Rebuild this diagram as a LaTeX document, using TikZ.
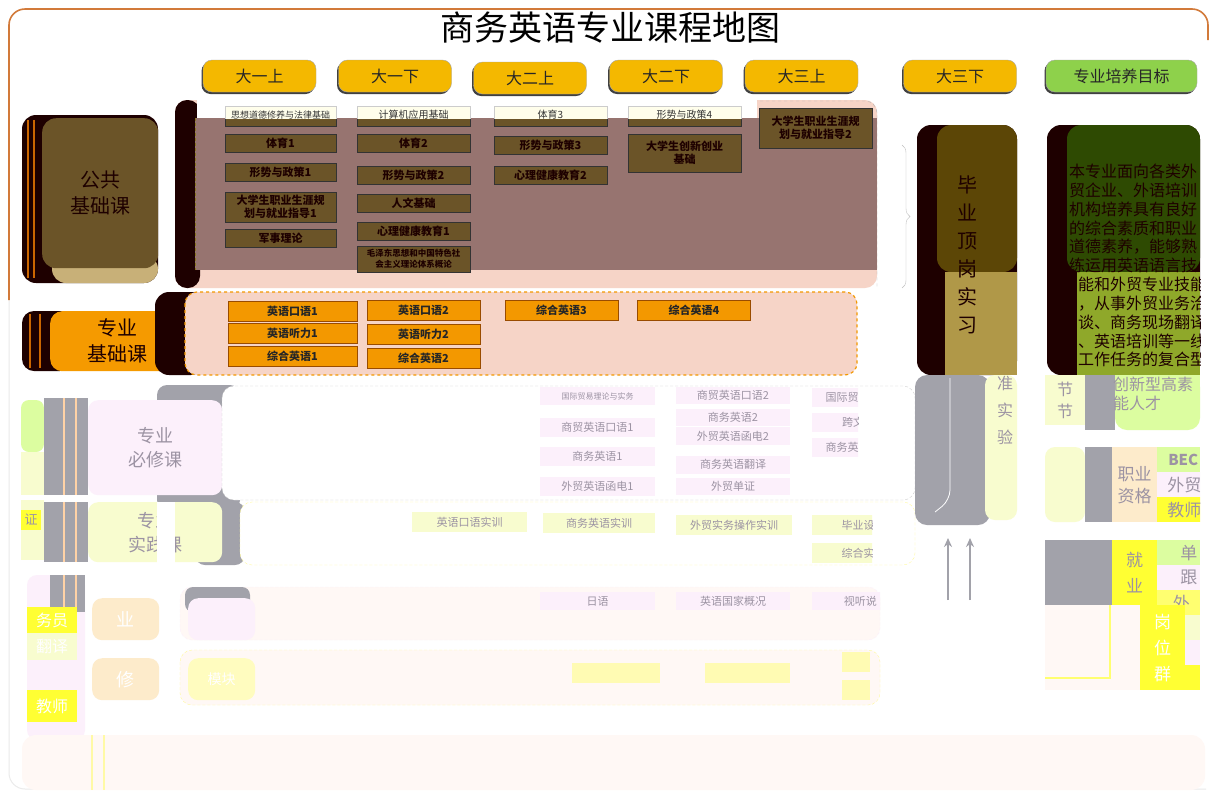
\documentclass[tikz,border=0pt]{standalone}
\usepackage{fontspec}
\setmainfont{Noto Sans CJK SC}
\usetikzlibrary{arrows.meta,positioning,shadows,decorations.pathreplacing}
\definecolor{semy}{HTML}{F4B800}
\definecolor{goalgreen}{HTML}{8ED14B}
\definecolor{darkred}{HTML}{1E0000}
\definecolor{olivebr}{HTML}{6B5428}
\definecolor{tanbr}{HTML}{C8B078}
\definecolor{mauve}{HTML}{977470}
\definecolor{peach}{HTML}{F6D4C7}
\definecolor{orangelab}{HTML}{F59A00}
\definecolor{orangec}{HTML}{F39800}
\definecolor{framebr}{HTML}{D27A3A}
\definecolor{intern}{HTML}{5C4606}
\definecolor{interntan}{HTML}{B09848}
\definecolor{goaldark}{HTML}{2E4A02}
\definecolor{goalolive}{HTML}{8FA82A}
\definecolor{graybar}{HTML}{A2A2AA}
\definecolor{palepink}{HTML}{FCF0FB}
\definecolor{paleyel}{HTML}{F8FCCF}
\definecolor{palegreen}{HTML}{DCFDA0}
\definecolor{brightyel}{HTML}{FFFF33}
\definecolor{palepeach}{HTML}{FDEBCB}
\definecolor{offwhite}{HTML}{FFF8F5}
\definecolor{fadetext}{HTML}{9C93A3}
\tikzset{%
    sem_block/.style={%
        rectangle, rounded corners=9pt, draw=gray!70, fill=semy, minimum width=113, minimum height=32,
        font=\fontsize{16}{18}\selectfont, text=black!85,
        drop shadow={shadow xshift=-1.5pt, shadow yshift=-2pt, fill=black!75, opacity=1}
    },
    head_box/.style={%
        rectangle, rounded corners=12pt, align=center, font=\fontsize{20}{26}\selectfont, text=darkred
    },
    pub_course/.style={%
        rectangle, draw=black!80, line width=0.7pt, fill=olivebr, text=darkred, align=center,
        font=\bfseries\fontsize{11}{13}\selectfont, minimum width=111, minimum height=18, inner sep=1pt,
        drop shadow={shadow xshift=1pt, shadow yshift=-1pt, fill=black!60, opacity=1}
    },
    pub_top/.style={%
        pub_course, fill=yellow!8, draw=gray!40, text=black!80, font=\fontsize{10}{12}\selectfont
    },
    base_course/.style={%
        rectangle, draw=orange!60!black, line width=0.6pt, fill=orangec, text=black!85,
        font=\bfseries\fontsize{11}{13}\selectfont, minimum width=113, minimum height=20, inner sep=1pt
    },
    req_course/.style={%
        rectangle, fill=palepink, text=fadetext, font=\fontsize{11}{13}\selectfont,
        minimum width=115, minimum height=19, inner sep=1pt
    },
    prac_course/.style={%
        rectangle, fill=paleyel, text=fadetext, font=\fontsize{11}{13}\selectfont,
        minimum width=114, minimum height=20, inner sep=1pt
    },
    fade_head/.style={%
        rectangle, rounded corners=10pt, align=center, text=fadetext, font=\fontsize{18}{24}\selectfont
    },
    side_cell/.style={%
        rectangle, anchor=north west, inner sep=0pt, text=fadetext, align=center, font=\fontsize{16}{19}\selectfont
    },
    goal_txt/.style={%
        anchor=north west, inner sep=0pt, align=left, text=darkred, font=\fontsize{16}{18.8}\selectfont
    },
    up_arrow/.style={%
        -{Stealth[length=9pt,width=8pt]}, draw=graybar, line width=2pt
    },
}
\begin{document}
\begin{tikzpicture}[x=1pt,y=-1pt]
\useasboundingbox (0,0) rectangle (1211,796);
\fill[white] (0,0) rectangle (1211,796);

% frame and title
\draw[black!8, line width=1pt, rounded corners=16pt] (9,300) -- (9,789) -- (1206,789);
\draw[framebr, line width=1.6pt, rounded corners=16pt] (9,300) -- (9,9) -- (1208,9) -- (1208,40);
\node[font=\fontsize{34}{36}\selectfont] (title) at (610,28) {商务英语专业课程地图};

% semesters
\node[sem_block] (s11) at (259.5,76) {大一上};
\node[sem_block] (s12) at (395,76) {大一下};
\node[sem_block] (s21) at (530,78) {大二上};
\node[sem_block] (s22) at (666,76) {大二下};
\node[sem_block] (s31) at (801.5,76) {大三上};
\node[sem_block] (s32) at (960,76) {大三下};
\node[sem_block, fill=goalgreen, minimum width=151] (goal) at (1121.5,76) {专业培养目标};

% public basic courses
\fill[darkred, rounded corners=14pt] (22,115) rectangle (158,283);
\draw[orange!80!black, line width=1.5pt] (28,120) -- (28,278) (34,120) -- (34,278);
\fill[tanbr, rounded corners=14pt] (52,255) rectangle (158,283);
\node[head_box, fill=olivebr, minimum width=116, minimum height=150, anchor=north west,
      rounded corners=14pt] (pub) at (42,118) {公共\\基础课};
\fill[peach, rounded corners=12pt] (175,100) rectangle (877,288);
\draw[gray!60, dashed, rounded corners=12pt] (190,101) -- (877,101) -- (877,288);
\fill[darkred, rounded corners=12pt] (175,100) rectangle (200,288);
\fill[mauve] (195,118) rectangle (877,270);
\draw[olivebr!80!yellow, densely dashed, line width=1pt] (195,118) -- (195,270);

\node[pub_course] (p1a) at (280.5,117) {};
\node[pub_course] (p1b) at (280.5,143) {体育1};
\node[pub_course] (p1c) at (280.5,172) {形势与政策1};
\node[pub_course, minimum height=30] (p1d) at (280.5,207) {大学生职业生涯规\\划与就业指导1};
\node[pub_course] (p1e) at (280.5,238) {军事理论};
\node[pub_course, minimum width=113] (p2a) at (413.5,117) {};
\node[pub_course, minimum width=113] (p2b) at (413.5,143) {体育2};
\node[pub_course, minimum width=113] (p2c) at (413.5,175) {形势与政策2};
\node[pub_course, minimum width=113] (p2d) at (413.5,203) {人文基础};
\node[pub_course, minimum width=113] (p2e) at (413.5,231) {心理健康教育1};
\node[pub_course, minimum width=113, minimum height=26, font=\bfseries\fontsize{8.5}{11}\selectfont]
     (p2f) at (413.5,259) {毛泽东思想和中国特色社\\会主义理论体系概论};
\node[pub_course, minimum width=113] (p3a) at (550.5,117) {};
\node[pub_course, minimum width=113] (p3b) at (550.5,145) {形势与政策3};
\node[pub_course, minimum width=113] (p3c) at (550.5,175) {心理健康教育2};
\node[pub_course, minimum width=113] (p4a) at (684.5,117) {};
\node[pub_course, minimum width=113, minimum height=38] (p4b) at (684.5,153) {大学生创新创业\\基础};
\node[pub_course, minimum width=113, minimum height=40] (p5a) at (815.5,128) {大学生职业生涯规\\划与就业指导2};

% glitched top strip of the public block
\begin{scope}
  \clip (197,99) rectangle (757,118);
  \fill[white] (197,99) rectangle (757,118);
  \node[pub_top, font=\fontsize{9}{11}\selectfont] (t1) at (280.5,115) {思想道德修养与法律基础};
  \node[pub_top, minimum width=113] (t2) at (413.5,115) {计算机应用基础};
  \node[pub_top, minimum width=113] (t3) at (550.5,115) {体育3};
  \node[pub_top, minimum width=113] (t4) at (684.5,115) {形势与政策4};
\end{scope}
\coordinate (bracetop) at (902,145);
\coordinate (bracebot) at (902,288);
\draw[gray!50, decorate, decoration={brace, amplitude=8pt}] (bracetop) -- (bracebot);

% professional basic courses
\fill[darkred, rounded corners=12pt] (22,311) rectangle (72,371);
\draw[orange!80!black, line width=1.5pt] (30,314) -- (30,368) (40,314) -- (40,368);
\node[head_box, fill=orangelab, minimum width=135, minimum height=60, anchor=north west] (base) at (50,311) {专业\\基础课};
\fill[darkred, rounded corners=14pt] (155,292) rectangle (205,375);
\draw[fill=peach, draw=orangec, dashed, line width=1.2pt, rounded corners=12pt] (185,292) rectangle (857,375);
\node[base_course, minimum width=129] (b1a) at (292.5,311.5) {英语口语1};
\node[base_course, minimum width=129] (b1b) at (292.5,333.5) {英语听力1};
\node[base_course, minimum width=129] (b1c) at (292.5,356) {综合英语1};
\node[base_course] (b2a) at (423.5,310) {英语口语2};
\node[base_course] (b2b) at (423.5,334) {英语听力2};
\node[base_course] (b2c) at (423.5,358) {综合英语2};
\node[base_course] (b3a) at (561.5,310) {综合英语3};
\node[base_course] (b4a) at (694,310) {综合英语4};

% internship
\fill[darkred, rounded corners=14pt] (917,125) rectangle (1017,375);
\fill[intern, rounded corners=14pt] (937,125) rectangle (1017,272);
\fill[interntan] (945,272) rectangle (1017,375);
\node[align=center, text=darkred, font=\fontsize{20}{28}\selectfont] (intern) at (967,255) {毕\\业\\顶\\岗\\实\\习};

% training goal
\fill[darkred, rounded corners=14pt] (1047,125) rectangle (1200,375);
\fill[goaldark, rounded corners=14pt] (1067,125) rectangle (1200,272);
\fill[goalolive] (1077,272) rectangle (1200,375);
\begin{scope}
  \clip (1067,125) rectangle (1200,378);
  \node[goal_txt] (goaltext) at (1069,164) {本专业面向各类外\\贸企业、外语培训\\机构培养具有良好\\的综合素质和职业\\道德素养，能够熟\\练运用英语语言技};
  \node[goal_txt] (goaltext2) at (1078,277) {能和外贸专业技能\\，从事外贸业务洽\\谈、商务现场翻译\\、英语培训等一线\\工作任务的复合型};
\end{scope}

% faded lower part: compulsory courses
\fill[palegreen, rounded corners=8pt] (21,400) rectangle (44,452);
\fill[paleyel] (21,452) rectangle (44,495);
\fill[graybar] (44,398) rectangle (88,495);
\draw[orange!35, line width=2pt] (64,398) -- (64,495) (76,398) -- (76,495);
\fill[graybar, rounded corners=10pt] (157,385) rectangle (240,510);
\node[fade_head, fill=palepink, minimum width=134, minimum height=95, anchor=north west] (req) at (88,400) {专业\\必修课};
\draw[fill=white, draw=gray!40, densely dashed, rounded corners=12pt] (222,386) rectangle (915,500);
\node[req_course, font=\fontsize{8}{10}\selectfont, minimum height=18] (r1a) at (597.5,396) {国际贸易理论与实务};
\node[req_course] (r1b) at (597.5,427) {商贸英语口语1};
\node[req_course] (r1c) at (597.5,456) {商务英语1};
\node[req_course] (r1d) at (597.5,486) {外贸英语函电1};
\node[req_course, minimum width=114, minimum height=17] (r2a) at (733,395) {商贸英语口语2};
\node[req_course, minimum width=114, minimum height=17] (r2b) at (733,417.5) {商务英语2};
\node[req_course, minimum width=114, minimum height=18] (r2c) at (733,436) {外贸英语函电2};
\node[req_course, minimum width=114, minimum height=18] (r2d) at (733,464.5) {商务英语翻译};
\node[req_course, minimum width=114, minimum height=17] (r2e) at (733,486.5) {外贸单证};
\begin{scope}
  \clip (805,380) rectangle (858,505);
  \node[req_course, anchor=west, minimum width=60] (r3a) at (812,397) {国际贸};
  \node[req_course, anchor=west, minimum width=60] (r3b) at (812,422) {\hspace{2em}跨文};
  \node[req_course, anchor=west, minimum width=60] (r3c) at (812,447) {商务英};
\end{scope}

% faded lower part: practice courses
\fill[paleyel] (21,500) rectangle (44,560);
\node[fill=brightyel, text=fadetext, inner sep=1pt, minimum width=20, minimum height=20,
      font=\fontsize{13}{15}\selectfont] (cert) at (31,520) {证};
\fill[graybar] (44,502) rectangle (88,562);
\draw[orange!35, line width=2pt] (64,502) -- (64,562) (76,502) -- (76,562);
\fill[graybar, rounded corners=10pt] (195,502) rectangle (245,565);
\node[fade_head, fill=paleyel, minimum width=134, minimum height=60, anchor=north west] (prac) at (88,502) {专业\\实践课};
\fill[white] (157,502) rectangle (175,563);
\draw[fill=white, draw=yellow!40, densely dashed, rounded corners=12pt] (240,502) rectangle (915,565);
\node[prac_course, minimum width=115] (c1) at (469.5,522) {英语口语实训};
\node[prac_course, minimum width=112] (c2) at (599,523) {商务英语实训};
\node[prac_course, minimum width=116] (c3) at (734,525) {外贸实务操作实训};
\begin{scope}
  \clip (805,505) rectangle (872,566);
  \node[prac_course, anchor=west, minimum width=70] (c4) at (812,525) {\hspace{2em}毕业设};
  \node[prac_course, anchor=west, minimum width=70] (c5) at (812,553) {\hspace{2em}综合实};
\end{scope}

% faded lower part: elective modules
\fill[palepink, rounded corners=10pt] (27,575) rectangle (85,740);
\fill[graybar] (50,575) rectangle (85,612);
\draw[orange!35, line width=2pt] (64,575) -- (64,612) (76,575) -- (76,612);
\node[side_cell, fill=brightyel, minimum width=50, minimum height=26, text=white] (job1) at (27,607) {务员};
\node[side_cell, fill=paleyel, minimum width=50, minimum height=27, text=white] (job2) at (27,633) {翻译};
\node[side_cell, fill=brightyel, minimum width=50, minimum height=32, text=white] (job3) at (27,690) {教师};
\node[fade_head, fill=palepeach, minimum width=67, minimum height=42, anchor=north west, text=white] (opt1) at (92,598) {业};
\node[fade_head, fill=palepeach, minimum width=67, minimum height=42, anchor=north west, text=white] (opt2) at (92,658) {修};
\draw[fill=offwhite, draw=palepink, densely dashed, rounded corners=12pt] (180,587) rectangle (880,640);
\fill[graybar, rounded corners=8pt] (185,587) rectangle (250,612);
\node[fade_head, fill=palepink, minimum width=67, minimum height=42, anchor=north west] (optm1) at (188,598) {};
\node[req_course, minimum height=18] (o1) at (597.5,601) {日语};
\node[req_course, minimum width=114, minimum height=18] (o2) at (733,601) {英语国家概况};
\begin{scope}
  \clip (805,588) rectangle (880,612);
  \node[req_course, anchor=west, minimum width=80, minimum height=18] (o3) at (812,601) {\hspace{1.5em}视听说};
\end{scope}
\draw[fill=offwhite, draw=yellow!40, densely dashed, rounded corners=12pt] (180,650) rectangle (880,705);
\node[fade_head, fill=yellow!25, minimum width=67, minimum height=42, anchor=north west, text=white,
      font=\fontsize{14}{16}\selectfont] (optm2) at (188,658) {模块};
\node[prac_course, fill=yellow!30, minimum width=88] (o4) at (616,673) {};
\node[prac_course, fill=yellow!30, minimum width=85] (o5) at (747.5,673) {};
\node[prac_course, fill=yellow!30, minimum width=28] (o6) at (856,662) {};
\node[prac_course, fill=yellow!30, minimum width=28] (o7) at (856,690) {};

% bottom band
\fill[offwhite, rounded corners=14pt] (22,735) rectangle (1205,790);
\draw[yellow!35, line width=1.5pt] (92,735) -- (92,790) (104,735) -- (104,790);

% internship lower part and arrows
\fill[graybar, rounded corners=12pt] (915,375) rectangle (990,525);
\draw[white, line width=0.8pt, rounded corners=10pt] (950,378) -- (950,500) -- (935,512);
\fill[paleyel, rounded corners=10pt] (985,375) rectangle (1017,520);
\node[align=center, text=fadetext, font=\fontsize{16}{27}\selectfont] (exp) at (1005,410) {准\\实\\验};
\coordinate (arrA0) at (948,600);
\coordinate (arrA1) at (948,538);
\coordinate (arrB0) at (970,600);
\coordinate (arrB1) at (970,538);
\draw[up_arrow] (arrA0) -- (arrA1);
\draw[up_arrow] (arrB0) -- (arrB1);

% goal lower part
\node[side_cell, fill=paleyel, minimum width=40, minimum height=50, font=\fontsize{16}{22}\selectfont] (sec) at (1045,375) {节\\节};
\fill[graybar] (1085,375) rectangle (1115,430);
\fill[palegreen, rounded corners=12pt] (1115,375) rectangle (1200,430);
\fill[palegreen] (1115,375) rectangle (1200,395);
\node[anchor=north west, inner sep=0pt, align=left, text=fadetext, font=\fontsize{16}{18.8}\selectfont]
     (goaltail) at (1113,377) {创新型高素\\能人才};

% qualifications
\fill[paleyel, rounded corners=10pt] (1045,447) rectangle (1085,522);
\fill[graybar] (1085,447) rectangle (1112,522);
\node[side_cell, fill=palepeach, minimum width=45, minimum height=75, font=\fontsize{17}{22}\selectfont] (qual) at (1112,447) {职业\\资格};
\begin{scope}
  \clip (1150,440) rectangle (1200,700);
  \node[side_cell, fill=palegreen, minimum width=43, minimum height=25, font=\bfseries\fontsize{15}{18}\selectfont] (q1) at (1157,447) {\hspace{0.6em}BEC};
  \node[side_cell, fill=palepink, minimum width=43, minimum height=25, font=\fontsize{17}{20}\selectfont] (q2) at (1157,472) {\hspace{0.6em}外贸};
  \node[side_cell, fill=brightyel, minimum width=43, minimum height=25, font=\fontsize{17}{20}\selectfont] (q3) at (1157,497) {\hspace{0.6em}教师};
  \node[side_cell, fill=palegreen, minimum width=43, minimum height=25, font=\fontsize{17}{20}\selectfont] (e1) at (1157,540) {\hspace{1.2em}单};
  \node[side_cell, fill=palepink, minimum width=43, minimum height=25, font=\fontsize{17}{20}\selectfont] (e2) at (1157,565) {\hspace{1.2em}跟};
  \node[side_cell, fill=brightyel!70, minimum width=43, minimum height=25, font=\fontsize{17}{20}\selectfont] (e3) at (1157,590) {\hspace{0.3em}外};
\end{scope}

% employment
\fill[graybar] (1045,540) rectangle (1112,605);
\node[side_cell, fill=brightyel, minimum width=45, minimum height=65, font=\fontsize{17}{26}\selectfont] (emp) at (1112,540) {就\\业};
\fill[offwhite] (1045,605) rectangle (1140,690);
\draw[brightyel!70, line width=2pt] (1110,605) -- (1110,678) -- (1045,678);
\node[side_cell, fill=brightyel, minimum width=45, minimum height=85, text=white, font=\fontsize{17}{26}\selectfont] (posts) at (1140,605) {岗\\位\\群};
\fill[paleyel] (1185,615) rectangle (1200,640);
\fill[palepink] (1185,640) rectangle (1200,665);
\fill[brightyel] (1185,665) rectangle (1200,690);
\end{tikzpicture}
\end{document}
